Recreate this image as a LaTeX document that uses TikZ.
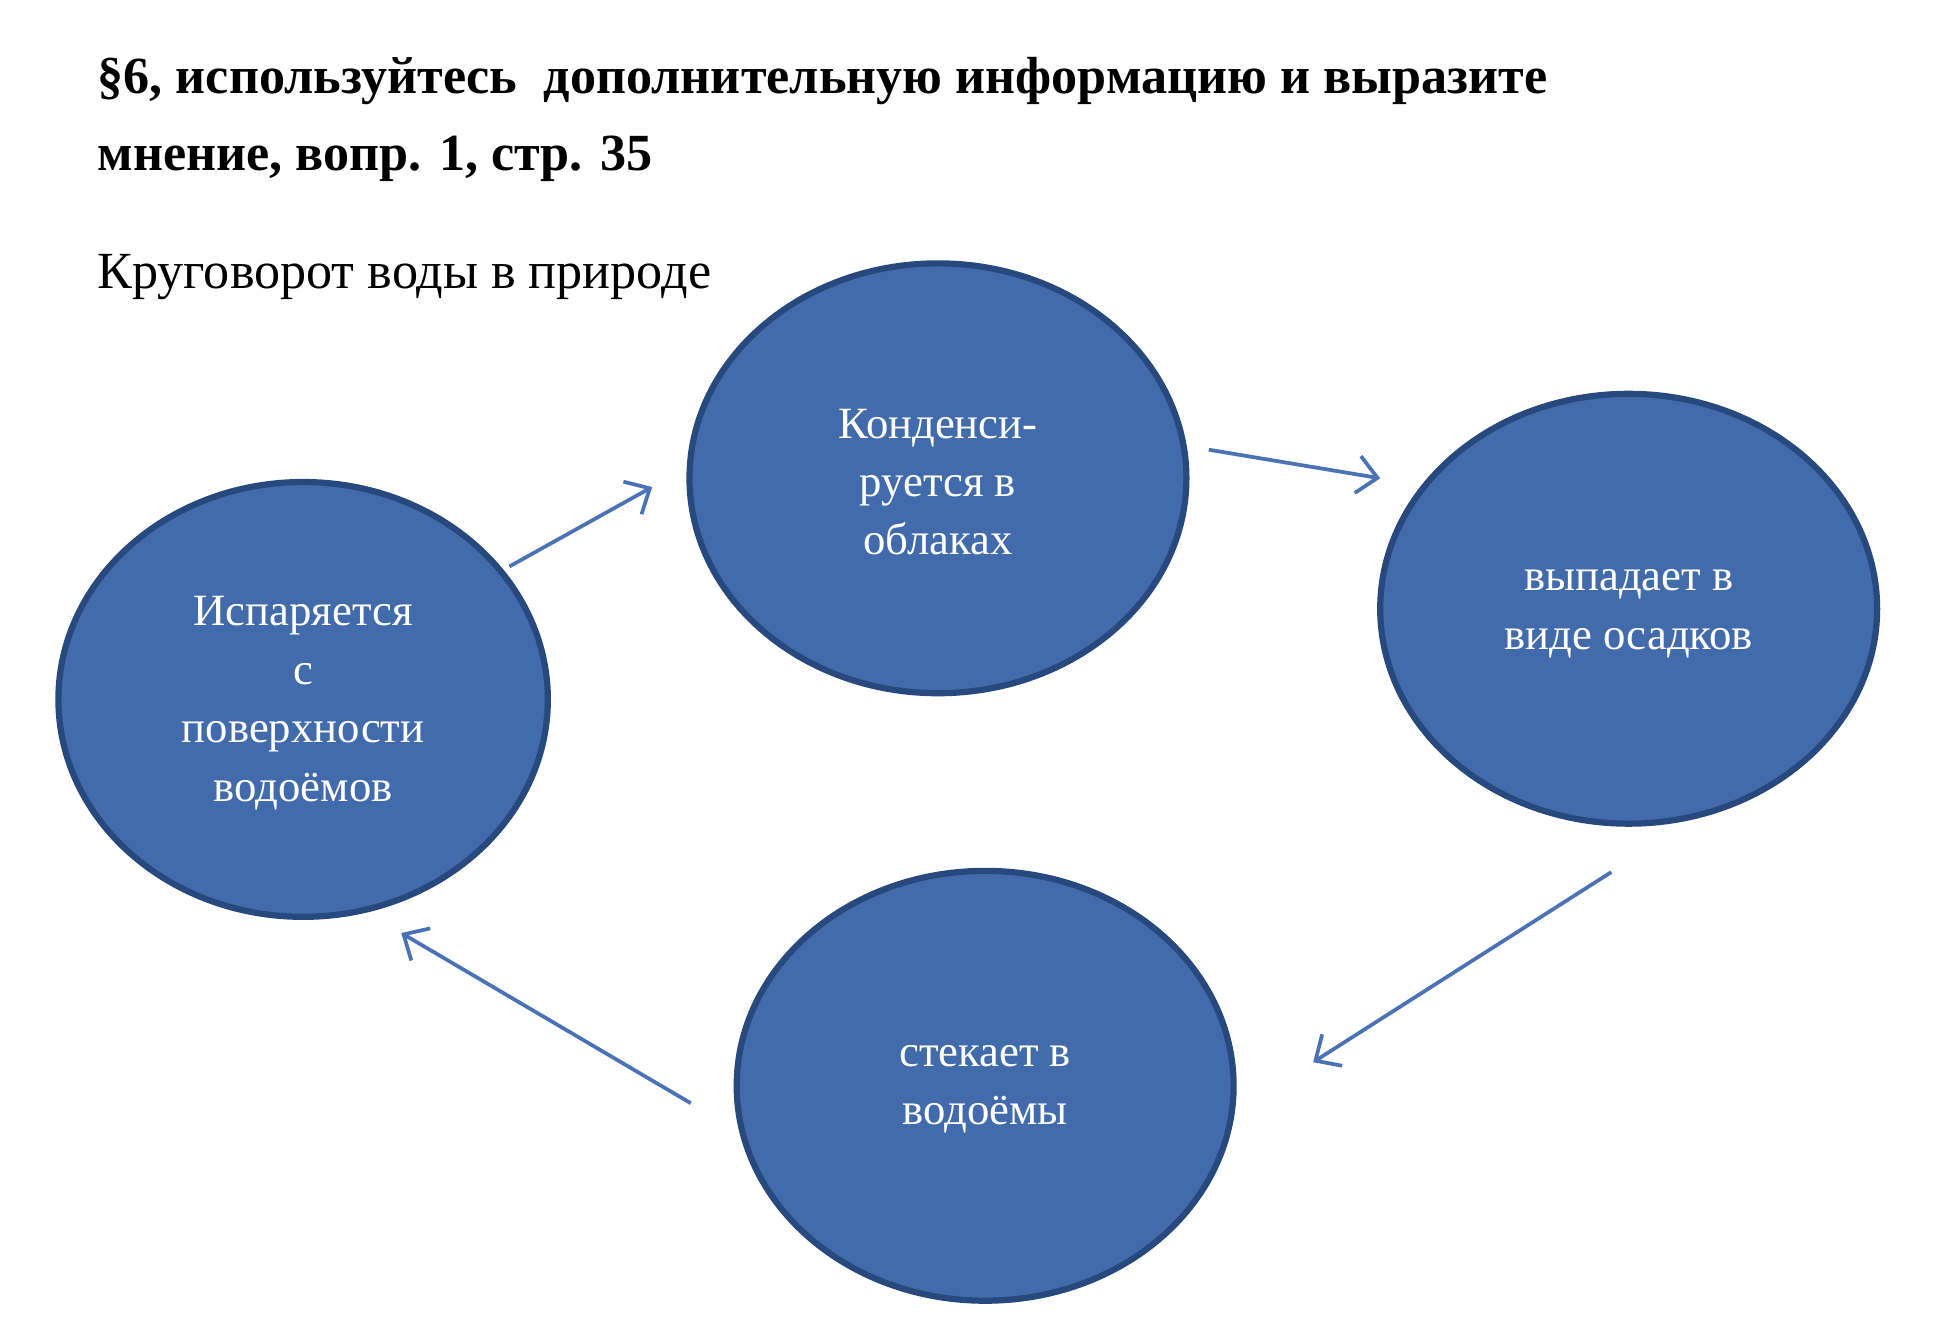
\documentclass[tikz,border=0pt]{standalone}
\usepackage{fontspec}
\setmainfont{Liberation Serif}
\usetikzlibrary{arrows.meta,shapes.geometric}
\definecolor{fillb}{RGB}{66,107,172}
\definecolor{edgeb}{RGB}{40,73,126}
\definecolor{arr}{RGB}{74,114,181}
\begin{document}
\begin{tikzpicture}[x=1pt,y=-1pt,
  blob/.style={ellipse,draw=edgeb,fill=fillb,line width=5pt,inner sep=0},
  lbl/.style={text=white,font=\fontsize{36}{47}\selectfont,align=center},
  conn/.style={draw=arr,line width=3pt,-{Straight Barb[length=16pt,width=30pt,line width=3pt]}}]
\useasboundingbox (0,0) rectangle (1560,1066);
\node[anchor=base west,font=\fontsize{42}{62}\selectfont\bfseries] (t1) at (75,75) {§6, используйтесь\ \ дополнительную информацию и выразите};
\node[anchor=base west,font=\fontsize{42}{62}\selectfont\bfseries] (t2) at (75,137) {мнение, вопр. 1, стр. 35};
\node[anchor=base west,font=\fontsize{42}{62}\selectfont] (t3) at (75,232) {Круговорот воды в природе};
\node[blob,minimum width=394pt,minimum height=350pt] (e1) at (244,563) {};
\node[blob,minimum width=400pt,minimum height=346pt] (e2) at (755,385) {};
\node[blob,minimum width=400pt,minimum height=346pt] (e3) at (1311,490) {};
\node[blob,minimum width=400pt,minimum height=346pt] (e4) at (793,874) {};
\node[lbl] (l1) at (244,566) {Испаряется\\с\\поверхности\\водоёмов};
\node[lbl] (l2) at (755,388) {Конденси-\\руется в\\облаках};
\node[lbl] (l3) at (1311,494) {выпадает в\\виде осадков};
\node[lbl] (l4) at (793,877) {стекает в\\водоёмы};
\coordinate (a1) at (410,456); \coordinate (b1) at (525,392);
\coordinate (a2) at (973,362); \coordinate (b2) at (1111,385);
\coordinate (a3) at (1297,702); \coordinate (b3) at (1057,855);
\coordinate (a4) at (556,888); \coordinate (b4) at (323,751);
\draw[conn] (a1) -- (b1);
\draw[conn] (a2) -- (b2);
\draw[conn] (a3) -- (b3);
\draw[conn] (a4) -- (b4);
\end{tikzpicture}
\end{document}
